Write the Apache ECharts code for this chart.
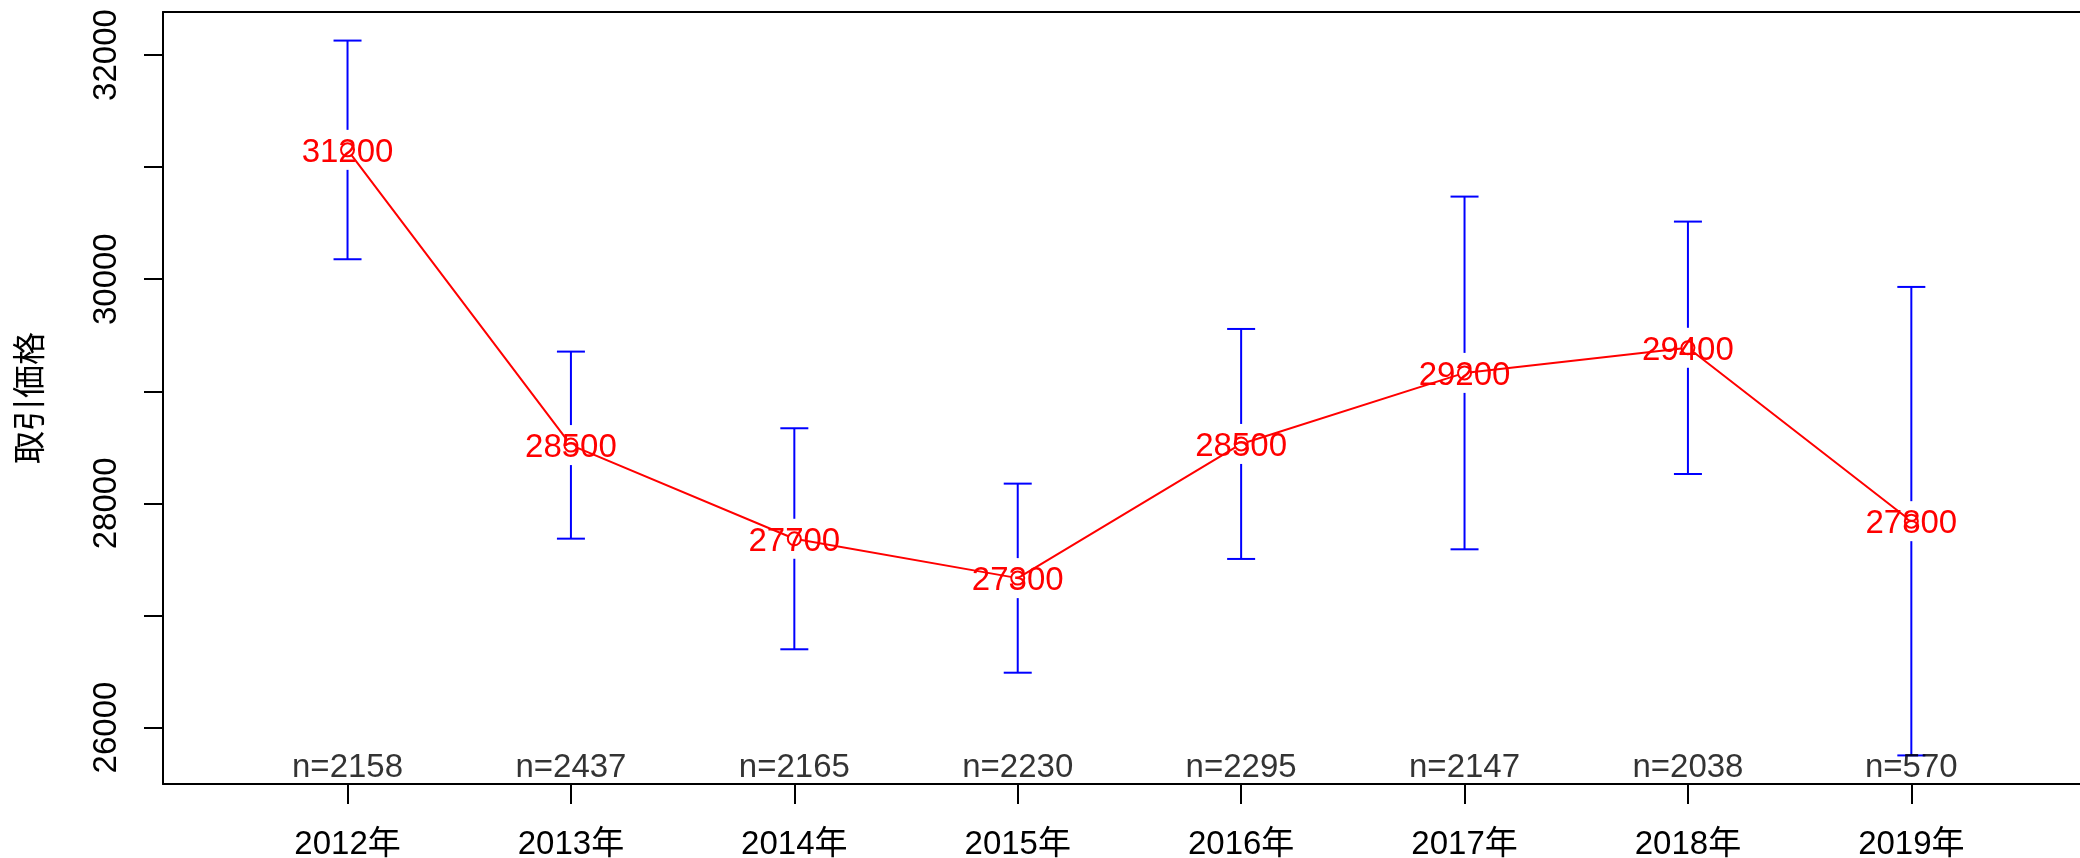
<!DOCTYPE html>
<html>
<head>
<meta charset="utf-8">
<script src="https://cdn.jsdelivr.net/npm/echarts@6/dist/echarts.min.js"></script>
<style>
html,body{margin:0;padding:0;background:#fff;}
#chart{width:2080px;height:858px;}
</style>
</head>
<body>
<div id="chart"></div>
<script>
const years = ['2012年','2013年','2014年','2015年','2016年','2017年','2018年','2019年'];
const nCounts = [2158, 2437, 2165, 2230, 2295, 2147, 2038, 570];
const means = [31154, 28520, 27684, 27333, 28530, 29164, 29388, 27841];
const ciLower = [30178, 27685, 26698, 26489, 27504, 27590, 28262, 25751];
const ciUpper = [32129, 29354, 28670, 28176, 29556, 30737, 30514, 29931];
const meanLabels = ['31200','28500','27700','27300','28500','29200','29400','27800'];
const yTickValues = [26000, 27000, 28000, 29000, 30000, 31000, 32000];
const yLabelValues = [26000, 28000, 30000, 32000];
const yAxisTitle = '取引価格';

const FONT = "'Liberation Sans', Arial, 'Noto Sans CJK JP', sans-serif";
const FS = 33;
const xPos = years.map((_, i) => i + 1);
const Y_MIN = 25496, Y_MAX = 32384;
const X_MIN = 0.174, X_MAX = 8.755;

const chart = echarts.init(document.getElementById('chart'), null, {renderer: 'canvas'});

const errData = xPos.map((x, i) => [x, ciLower[i], ciUpper[i], means[i]]);
const lineData = xPos.map((x, i) => [x, means[i]]);
const nData = xPos.map((x, i) => [x, Y_MIN]);

const option = {
  animation: false,
  backgroundColor: '#ffffff',
  textStyle: {fontFamily: FONT},
  grid: {
    left: 163, right: 0, top: 12, bottom: 74,
    show: false, containLabel: false, outerBoundsMode: 'none'
  },
  xAxis: [{
    type: 'value', min: X_MIN, max: X_MAX, position: 'bottom',
    axisLine: {show: true, onZero: false, lineStyle: {color: '#000', width: 2}},
    axisTick: {show: true, length: 20, inside: false, customValues: xPos, lineStyle: {color: '#000', width: 2}},
    axisLabel: {show: true, customValues: xPos, margin: 44, fontSize: FS, color: '#000', fontFamily: FONT,
      formatter: v => years[Math.round(v) - 1] || ''},
    splitLine: {show: false}
  }, {
    type: 'value', min: X_MIN, max: X_MAX, position: 'top',
    axisLine: {show: true, onZero: false, lineStyle: {color: '#000', width: 2}},
    axisTick: {show: false}, axisLabel: {show: false}, splitLine: {show: false}
  }],
  yAxis: {
    type: 'value', min: Y_MIN, max: Y_MAX,
    name: yAxisTitle, nameLocation: 'middle', nameRotate: 90, nameGap: 118,
    nameTextStyle: {fontSize: FS, color: '#000', fontFamily: "'Noto Sans CJK JP', sans-serif"},
    axisLine: {show: true, onZero: false, lineStyle: {color: '#000', width: 2}},
    axisTick: {show: true, length: 19, inside: false, customValues: yTickValues, lineStyle: {color: '#000', width: 2}},
    axisLabel: {show: true, customValues: yLabelValues, rotate: 90, margin: 40, fontSize: FS, color: '#000', fontFamily: FONT,
      formatter: v => String(v)},
    splitLine: {show: false}
  },
  series: [
    {
      type: 'custom',
      data: errData,
      encode: {x: 0, y: [1, 2]},
      z: 2,
      renderItem: function (params, api) {
        const x = api.value(0);
        const lo = api.coord([x, api.value(1)]);
        const hi = api.coord([x, api.value(2)]);
        const mid = api.coord([x, api.value(3)]);
        const gap = 20, cap = 14;
        const style = {stroke: '#0000ff', lineWidth: 2};
        return {
          type: 'group',
          children: [
            {type: 'line', shape: {x1: hi[0], y1: hi[1], x2: hi[0], y2: mid[1] - gap}, style: style},
            {type: 'line', shape: {x1: lo[0], y1: mid[1] + gap, x2: lo[0], y2: lo[1]}, style: style},
            {type: 'line', shape: {x1: hi[0] - cap, y1: hi[1], x2: hi[0] + cap, y2: hi[1]}, style: style},
            {type: 'line', shape: {x1: lo[0] - cap, y1: lo[1], x2: lo[0] + cap, y2: lo[1]}, style: style}
          ]
        };
      }
    },
    {
      type: 'line',
      data: lineData,
      z: 3,
      symbol: 'emptyCircle',
      symbolSize: 13,
      itemStyle: {color: '#ff0000', borderColor: '#ff0000', borderWidth: 1.5},
      lineStyle: {color: '#ff0000', width: 2},
      label: {
        show: true, position: 'inside', offset: [0, 3], color: '#ff0000', fontSize: FS, fontFamily: FONT,
        formatter: p => meanLabels[p.dataIndex]
      }
    },
    {
      type: 'scatter',
      data: nData,
      symbolSize: 0,
      z: 4,
      label: {
        show: true, position: 'top', distance: 0, color: '#000', fontSize: FS, fontFamily: FONT,
        formatter: p => 'n=' + nCounts[p.dataIndex]
      }
    }
  ]
};
chart.setOption(option);
</script>
</body>
</html>
